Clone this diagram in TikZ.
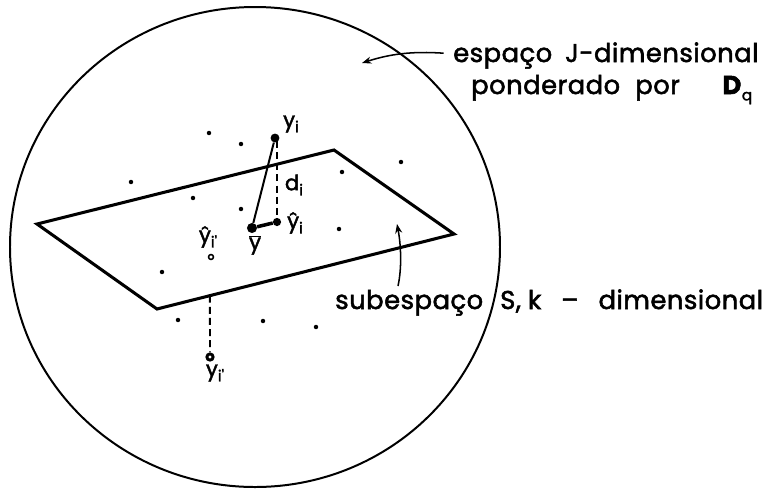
\documentclass[tikz,border=0pt]{standalone}
\usepackage{fontspec}
\setmainfont{Poppins}
\newfontfamily\lbl[LetterSpace=2,FakeBold=2]{Poppins}
\newfontfamily\plbl[FakeBold=2]{Poppins}
\newcommand\mysub[1]{\raisebox{-0.45ex}{\fontsize{13}{15}\selectfont #1}}
\usetikzlibrary{arrows.meta,calc}
\begin{document}
\begin{tikzpicture}[x=0.03cm,y=-0.03cm,
  smalldot/.style={circle,fill=black,inner sep=0pt,minimum size=3.8pt},
  bigdot/.style={circle,fill=black,inner sep=0pt,minimum size=7.6pt},
  opendot/.style={circle,draw=black,line width=1.3pt,inner sep=0pt,minimum size=4.2pt},
  bigtext/.style={inner sep=0pt,anchor=base west,font=\fontsize{22}{26}\selectfont\lbl},
  ptlabel/.style={inner sep=0pt,font=\fontsize{18}{21}\selectfont\plbl},
  pointer/.style={line width=1.3pt,-{Stealth[length=8pt,width=6pt]}},
  dashline/.style={line width=1.6pt,dash pattern=on 6pt off 3.5pt}]
\useasboundingbox (0,0) rectangle (772,490);
% outer space
\draw[line width=1.7pt] (255,247) ellipse [x radius=245, y radius=240];
% subspace plane
\draw[line width=2.6pt,line join=miter]
  (37,224) coordinate (L) -- (334,150) coordinate (T) -- (454,234) coordinate (R)
  -- (157,309) coordinate (B) -- cycle;
% scattered points
\foreach \p/\q [count=\k] in {209/133,241/144,131/182,193/198,241/209,342/172,
   339/229,401/162,162/272,178/320,263/321,316/327}
  \node[smalldot] (d\k) at (\p,\q) {};
% special points
\node[bigdot] (yi) at (275,138) {};
\node[bigdot,minimum size=8.6pt] (ybar) at (252,228) {};
\node[bigdot,minimum size=7pt] (yhat) at (277,222) {};
\node[opendot] (yhatp) at (211,257) {};
\node[bigdot,minimum size=8pt] (yip) at (210,357) {};
\fill[white] (yip.center) circle (1.3pt);
\coordinate (foot) at ($(B)!0.178!(R)$);
\coordinate (dtop) at (277,141);
% connectors
\draw[line width=1.7pt] (yi) -- (ybar);
\draw[line width=3pt] (ybar) -- (yhat);
\draw[dashline] (dtop) -- (yhat);
\draw[dashline] (foot) -- (yip);
% point labels
\node[ptlabel] (lyi) at (291,124) {y\mysub{i}};
\node[ptlabel] (ldi) at (294,185) {d\mysub{i}};
\node[ptlabel] (lyhat) at (295,223) {\^{y}\mysub{i}};
\node[ptlabel] (lybar) at (255,245) {$\overline{\hbox{y}}$};
\node[ptlabel] (lyhatp) at (208,237) {\^{y}\mysub{i'}};
\node[ptlabel] (lyip) at (215,373) {y\mysub{i'}};
% texts
\node[bigtext] (t1) at (453,62) {espaço\hspace{11pt}J-dimensional};
\node[bigtext] (t2) at (471,94) {ponderado\hspace{13pt}por\hspace{36pt}\textbf{D}\mysub{q}};
\node[bigtext] (t3) at (335,309) {subespaço};
\node[bigtext] (t4) at (500,309) {S,\hspace{6pt}k\hspace{17pt}–\hspace{17pt}dimensional};
% pointers
\coordinate (tip1) at (362,63);
\coordinate (tip2) at (397,224);
\coordinate (start2) at (398,286);
\draw[pointer] ([xshift=-8pt,yshift=2pt]t1.west) .. controls (412,51) and (390,54) .. (tip1);
\draw[pointer] (start2) .. controls (402,268) and (401,245) .. (tip2);
\end{tikzpicture}
\end{document}
